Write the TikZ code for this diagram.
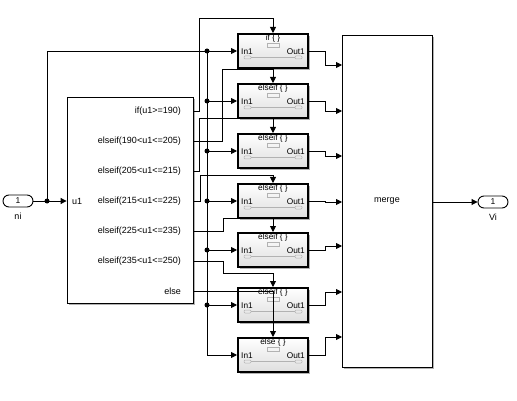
\documentclass[tikz,border=0pt]{standalone}
\usepackage{fontspec}
\setmainfont{Liberation Sans}
\usetikzlibrary{arrows.meta,shadows,calc}
\begin{document}
\begin{tikzpicture}[x=1pt,y=-1pt,
  wire/.style={line width=0.9pt},
  sig/.style={wire,-{Triangle[length=6pt,width=6pt]}},
  jdot/.style={circle,fill,inner sep=0pt,minimum size=5pt},
  lbl/.style={font=\fontsize{9}{10}\selectfont,inner sep=0pt},
  sml/.style={font=\fontsize{8.3}{9}\selectfont,inner sep=0pt},
  port/.style={draw,line width=0.9pt,rounded corners=6pt,minimum width=30pt,minimum height=12pt,inner sep=0pt,fill=white,font=\fontsize{8.5}{9}\selectfont},
  plainblk/.style={draw,line width=0.8pt,fill=white,inner sep=0pt,drop shadow={shadow xshift=2pt,shadow yshift=-2pt,fill=black!30,opacity=1}},
  act/.style={draw,line width=2pt,minimum width=70pt,minimum height=34pt,inner sep=0pt,top color=white,bottom color=black!13,drop shadow={shadow xshift=2pt,shadow yshift=-2pt,fill=black!30,opacity=1}},
  icon/.style={draw=black!30,line width=0.5pt},
]
\useasboundingbox (0,0) rectangle (517,401);

% ports
\node[port] (ni) at (18,201) {1};
\node[lbl] (nil) at (18,216) {ni};
\node[port] (Vi) at (493,202) {1};
\node[lbl] (Vil) at (493,217) {Vi};

% if block
\node[plainblk,minimum width=126pt,minimum height=206pt] (ifb) at (130,200) {};
\node[lbl,anchor=west] (u1) at (72,201) {u1};
\node[lbl,anchor=east] (l1) at (181,111) {if(u1>=190)};
\node[lbl,anchor=east] (l2) at (181,141) {elseif(190<u1<=205)};
\node[lbl,anchor=east] (l3) at (181,171) {elseif(205<u1<=215)};
\node[lbl,anchor=east] (l4) at (181,201) {elseif(215<u1<=225)};
\node[lbl,anchor=east] (l5) at (181,231) {elseif(225<u1<=235)};
\node[lbl,anchor=east] (l6) at (181,261) {elseif(235<u1<=250)};
\node[lbl,anchor=east] (l7) at (181,291) {else};

% merge block
\node[plainblk,minimum width=90pt,minimum height=332pt,font=\fontsize{9}{10}\selectfont] (M) at (387,201) {merge};

% action subsystems
\foreach \n/\y/\t in {1/51/if,2/101/elseif,3/151/elseif,4/201/elseif,5/250/elseif,6/305/elseif,7/355/else}{
  \node[act] (A\n) at (273,\y) {};
  \node[sml] (A\n t) at (273,\y-12.5) {\t\ \{ \}};
  \draw[icon] (267,\y-8) rectangle (279,\y-4);
  \node[sml,anchor=west] (A\n i) at (241,\y+0.5) {In1};
  \node[sml,anchor=east] (A\n o) at (305,\y+0.5) {Out1};
  \draw[icon,line width=0.7pt] (251,\y+6.5) -- (295,\y+6.5);
  \draw[icon,rounded corners=1pt] (244,\y+5) rectangle (251,\y+8);
  \draw[icon,rounded corners=1pt] (295,\y+5) rectangle (302,\y+8);
}

% input distribution
\coordinate (j0) at (47,201);
\coordinate (j1) at (207,51);
\draw[sig] (ni.east) -- (ifb.west |- ni.east);
\draw[sig] (j0) |- (A1.west);
\draw[sig] (j1) |- (A7.west);
\foreach \n in {2,...,6}{
  \draw[sig] (j1 |- A\n.west) -- (A\n.west);
  \node[jdot] (d\n) at (j1 |- A\n.west) {};
}
\node[jdot] (d0) at (j0) {};
\node[jdot] (d1) at (j1) {};

% action signals
\draw[sig] (ifb.east |- l1) -- (199,111) -- (199,18) -| (A1.north);
\draw[sig] (ifb.east |- l2) -- (222,141) -- (222,69) -| (A2.north);
\draw[sig] (ifb.east |- l3) -- (199,171) -- (199,118) -| (A3.north);
\draw[sig] (ifb.east |- l4) -- (200,201) -- (200,175) -| (A4.north);
\draw[sig] (ifb.east |- l5) -- (223,231) -- (223,218) -| (A5.north);
\draw[sig] (ifb.east |- l6) -- (223,261) -- (223,273) -| (A6.north);
\draw[sig] (ifb.east |- l7) -| (A7.north);

% outputs to merge
\foreach \n/\y/\m in {1/51/65,2/101/111,3/151/156,4/201/202,5/250/246,6/305/292,7/355/337}{
  \coordinate (m\n) at (342,\m);
  \draw[sig] (A\n.east) -| (325,\m) -- (m\n);
}
\draw[sig] (M.east |- Vi.west) -- (Vi.west);
\end{tikzpicture}
\end{document}
